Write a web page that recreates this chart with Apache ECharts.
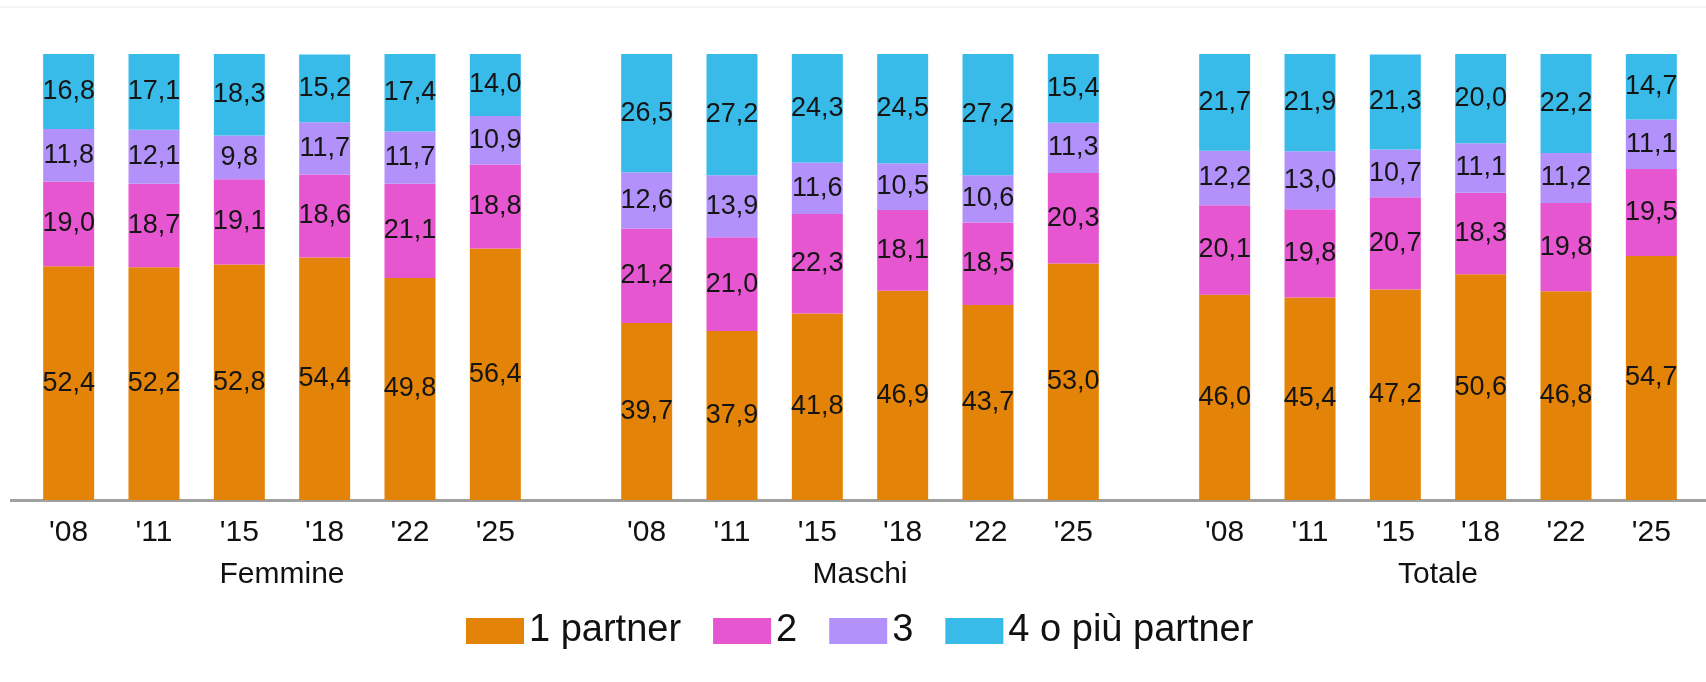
<!DOCTYPE html>
<html>
<head>
<meta charset="utf-8">
<script src="https://cdn.jsdelivr.net/npm/echarts@6/dist/echarts.min.js"></script>
<style>
  html, body { margin: 0; padding: 0; background: #fff; }
  #chart { width: 1706px; height: 682px; }
</style>
</head>
<body>
<div id="chart"></div>
<script>
// categories
const years = ["'08", "'11", "'15", "'18", "'22", "'25"];
const groups = ['Femmine', 'Maschi', 'Totale'];
const seriesNames = ['1 partner', '2', '3', '4 o più partner'];
const colors = ['#e38307', '#e556d0', '#b292fa', '#38bbe9'];

// Femmine
const fem1 = [52.4, 52.2, 52.8, 54.4, 49.8, 56.4];
const fem2 = [19.0, 18.7, 19.1, 18.6, 21.1, 18.8];
const fem3 = [11.8, 12.1, 9.8, 11.7, 11.7, 10.9];
const fem4 = [16.8, 17.1, 18.3, 15.2, 17.4, 14.0];
// Maschi
const mas1 = [39.7, 37.9, 41.8, 46.9, 43.7, 53.0];
const mas2 = [21.2, 21.0, 22.3, 18.1, 18.5, 20.3];
const mas3 = [12.6, 13.9, 11.6, 10.5, 10.6, 11.3];
const mas4 = [26.5, 27.2, 24.3, 24.5, 27.2, 15.4];
// Totale
const tot1 = [46.0, 45.4, 47.2, 50.6, 46.8, 54.7];
const tot2 = [20.1, 19.8, 20.7, 18.3, 19.8, 19.5];
const tot3 = [12.2, 13.0, 10.7, 11.1, 11.2, 11.1];
const tot4 = [21.7, 21.9, 21.3, 20.0, 22.2, 14.7];

const groupData = [
  [fem1, fem2, fem3, fem4],
  [mas1, mas2, mas3, mas4],
  [tot1, tot2, tot3, tot4]
];

const FONT = 'Liberation Sans, Arial, sans-serif';

// grid placement (px), one per group
const gridBox = [
  { left: 26, right: 1168 },
  { left: 604, right: 590 },
  { left: 1182, right: 12 }
];

var chart = echarts.init(document.getElementById('chart'), null, { renderer: 'canvas' });

var grids = [], xAxes = [], yAxes = [], series = [];
groups.forEach(function (g, gi) {
  grids.push({ left: gridBox[gi].left, right: gridBox[gi].right, top: 54, bottom: 182 });
  xAxes.push({
    type: 'category',
    gridIndex: gi,
    data: years,
    name: g,
    nameLocation: 'middle',
    nameGap: 60,
    nameTextStyle: { color: '#111', fontSize: 30, fontFamily: FONT },
    axisLine: { show: false },
    axisTick: { show: false },
    axisLabel: { color: '#111', fontSize: 30, fontFamily: FONT, margin: 18 }
  });
  yAxes.push({
    type: 'value', gridIndex: gi, min: 0, max: 100, show: false,
    splitLine: { show: false }
  });
  seriesNames.forEach(function (name, si) {
    series.push({
      type: 'bar',
      name: name,
      stack: 'g' + gi,
      xAxisIndex: gi,
      yAxisIndex: gi,
      barWidth: 51,
      data: groupData[gi][si],
      itemStyle: { color: colors[si] },
      label: {
        show: true,
        position: 'inside',
        color: '#151515',
        fontSize: 27,
        fontFamily: FONT,
        formatter: function (p) { return p.value.toFixed(1).replace('.', ','); }
      }
    });
  });
});

chart.setOption({
  animation: false,
  grid: grids,
  xAxis: xAxes,
  yAxis: yAxes,
  series: series,
  legend: {
    data: seriesNames,
    left: 461,
    top: 607,
    itemWidth: 58,
    itemHeight: 26,
    itemGap: 32,
    icon: 'rect',
    textStyle: { color: '#111', fontSize: 38, fontFamily: FONT }
  },
  graphic: [
    { type: 'rect', left: 0, top: 6, shape: { width: 1706, height: 2 }, style: { fill: '#f2f4f4' } },
    { type: 'rect', left: 10, top: 499, shape: { width: 1696, height: 3 }, style: { fill: '#a0a0a0' } }
  ]
});
</script>
</body>
</html>
